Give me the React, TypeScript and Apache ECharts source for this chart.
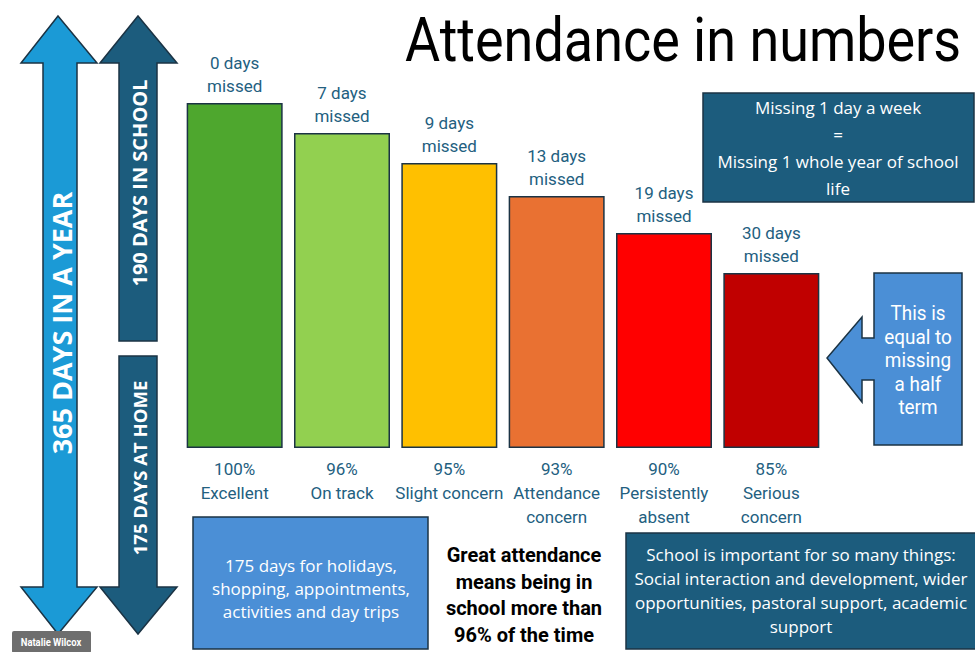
import React, { useEffect, useRef } from "react";
import * as echarts from "echarts";

const categories = [
  "Excellent",
  "On track",
  "Slight concern",
  "Attendance\nconcern",
  "Persistently\nabsent",
  "Serious\nconcern",
];
const attendancePct = [100, 96, 95, 93, 90, 85];
const daysMissed = [0, 7, 9, 13, 19, 30];
const barHeights = [345, 315, 285, 252, 215, 175];
const barColors = ["#4ea72e", "#92d050", "#ffc000", "#e97132", "#ff0000", "#c00000"];

const titleText = "Attendance in numbers";
const yearText = "365 DAYS IN A YEAR";
const schoolText = "190 DAYS IN SCHOOL";
const homeText = "175 DAYS AT HOME";
const weekText = "Missing 1 day a week\n=\nMissing 1 whole year of school\nlife";
const halfTermText = "This is\nequal to\nmissing\na half\nterm";
const holidayText = "175 days for holidays,\nshopping, appointments,\nactivities and day trips";
const greatText = "Great attendance\nmeans being in\nschool more than\n96% of the time";
const importantText =
  "School is important for so many things:\nSocial interaction and development, wider\nopportunities, pastoral support, academic\nsupport";
const authorText = "Natalie Wilcox";

const NARROW = "Roboto, 'Noto Sans', sans-serif";
const SANS = "'Open Sans', 'Noto Sans', sans-serif";
const TEAL_TEXT = "#23607f";
const DARK_TEAL = "#1c5c7d";
const LIGHT_BLUE = "#4b8fd6";
const BRIGHT_BLUE = "#1b9ad6";
const EDGE = "#1b3344";

export default function App() {
  const ref = useRef<HTMLDivElement>(null);

  useEffect(() => {
    document.body.style.margin = "0";
    const chart = echarts.init(ref.current!, null, { renderer: "svg" });

    const graphic: any[] = [
      // big double arrow
      {
        type: "polygon",
        shape: {
          points: [
            [58, 16], [97, 63], [77, 63], [77, 587], [97, 587], [58, 634],
            [21, 587], [43, 587], [43, 63], [21, 63],
          ],
        },
        style: { fill: BRIGHT_BLUE, stroke: EDGE, lineWidth: 1.5 },
      },
      {
        type: "text",
        x: 61,
        y: 323,
        rotation: Math.PI / 2,
        style: {
          text: yearText,
          fill: "#ffffff",
          font: `bold 27px ${SANS}`,
          textAlign: "center",
          textVerticalAlign: "middle",
        },
      },
      // up arrow (school)
      {
        type: "polygon",
        shape: {
          points: [
            [138, 16], [177, 63], [157, 63], [157, 341], [119, 341], [119, 63], [100, 63],
          ],
        },
        style: { fill: DARK_TEAL, stroke: EDGE, lineWidth: 1.5 },
      },
      {
        type: "text",
        x: 139,
        y: 183,
        rotation: Math.PI / 2,
        style: {
          text: schoolText,
          fill: "#ffffff",
          font: `bold 20px ${SANS}`,
          textAlign: "center",
          textVerticalAlign: "middle",
        },
      },
      // down arrow (home)
      {
        type: "polygon",
        shape: {
          points: [
            [119, 356], [157, 356], [157, 587], [177, 587], [138, 634], [100, 587], [119, 587],
          ],
        },
        style: { fill: DARK_TEAL, stroke: EDGE, lineWidth: 1.5 },
      },
      {
        type: "text",
        x: 139,
        y: 468,
        rotation: Math.PI / 2,
        style: {
          text: homeText,
          fill: "#ffffff",
          font: `bold 18.5px ${SANS}`,
          textAlign: "center",
          textVerticalAlign: "middle",
        },
      },
      // author tag
      {
        type: "rect",
        shape: { x: 12, y: 631, width: 79, height: 22, r: 2 },
        style: { fill: "#6e6e6e" },
      },
      {
        type: "text",
        x: 51,
        y: 642,
        scaleX: 0.9,
        style: {
          text: authorText,
          fill: "#ffffff",
          font: `bold 10.5px ${NARROW}`,
          textAlign: "center",
          textVerticalAlign: "middle",
        },
      },
      // title
      {
        type: "text",
        x: 405,
        y: 40,
        scaleX: 0.87,
        style: {
          text: titleText,
          fill: "#000000",
          font: `62px ${NARROW}`,
          textAlign: "left",
          textVerticalAlign: "middle",
        },
      },
      // week box
      {
        type: "rect",
        shape: { x: 703, y: 93, width: 271, height: 109 },
        style: { fill: DARK_TEAL, stroke: EDGE, lineWidth: 1.5 },
      },
      {
        type: "text",
        x: 838,
        y: 148,
        style: {
          text: weekText,
          fill: "#ffffff",
          font: `17px ${SANS}`,
          lineHeight: 26.7,
          textAlign: "center",
          textVerticalAlign: "middle",
        },
      },
      // half term callout
      {
        type: "polygon",
        shape: {
          points: [
            [874, 273], [962, 273], [962, 445], [874, 445], [874, 380], [862, 380],
            [862, 402], [827, 358], [862, 317], [862, 338], [874, 338],
          ],
        },
        style: { fill: LIGHT_BLUE, stroke: EDGE, lineWidth: 1.5 },
      },
      {
        type: "text",
        x: 918,
        y: 360,
        scaleX: 0.9,
        style: {
          text: halfTermText,
          fill: "#ffffff",
          font: `21px ${NARROW}`,
          lineHeight: 23.5,
          textAlign: "center",
          textVerticalAlign: "middle",
        },
      },
      // holidays box
      {
        type: "rect",
        shape: { x: 193, y: 517, width: 235, height: 132 },
        style: { fill: LIGHT_BLUE, stroke: EDGE, lineWidth: 1.5 },
      },
      {
        type: "text",
        x: 311,
        y: 588,
        style: {
          text: holidayText,
          fill: "#ffffff",
          font: `17px ${SANS}`,
          lineHeight: 23,
          textAlign: "center",
          textVerticalAlign: "middle",
        },
      },
      // great attendance
      {
        type: "text",
        x: 524,
        y: 595,
        style: {
          text: greatText,
          fill: "#000000",
          font: `bold 20px ${NARROW}`,
          lineHeight: 26.7,
          textAlign: "center",
          textVerticalAlign: "middle",
        },
      },
      // important box
      {
        type: "rect",
        shape: { x: 626, y: 533, width: 350, height: 116 },
        style: { fill: DARK_TEAL, stroke: EDGE, lineWidth: 1.5 },
      },
      {
        type: "text",
        x: 801,
        y: 590,
        style: {
          text: importantText,
          fill: "#ffffff",
          font: `17px ${SANS}`,
          lineHeight: 24,
          textAlign: "center",
          textVerticalAlign: "middle",
        },
      },
    ];

    chart.setOption({
      animation: false,
      backgroundColor: "#ffffff",
      grid: { left: 181, right: 150, top: 103, bottom: 204, containLabel: false },
      xAxis: {
        type: "category",
        data: categories,
        axisLine: { show: false },
        axisTick: { show: false },
        axisLabel: {
          margin: 9,
          interval: 0,
          formatter: (v: string, i: number) => `${attendancePct[i]}%\n${v}`,
          color: TEAL_TEXT,
          fontFamily: NARROW,
          fontSize: 17,
          lineHeight: 24,
        },
      },
      yAxis: { type: "value", min: 0, max: 345, show: false, splitLine: { show: false } },
      series: [
        {
          type: "bar",
          barWidth: 96,
          data: barHeights.map((v, i) => ({
            value: v,
            itemStyle: { color: barColors[i], borderColor: EDGE, borderWidth: 1.5 },
          })),
          label: {
            show: true,
            position: "top",
            distance: 6,
            formatter: (p: any) => `${daysMissed[p.dataIndex]} days\nmissed`,
            color: TEAL_TEXT,
            fontFamily: NARROW,
            fontSize: 17,
            lineHeight: 23,
          },
        },
      ],
      graphic,
    });

    return () => chart.dispose();
  }, []);

  return (
    <div
      ref={ref}
      style={{ position: "absolute", left: 0, top: 0, width: 975, height: 652 }}
    />
  );
}
